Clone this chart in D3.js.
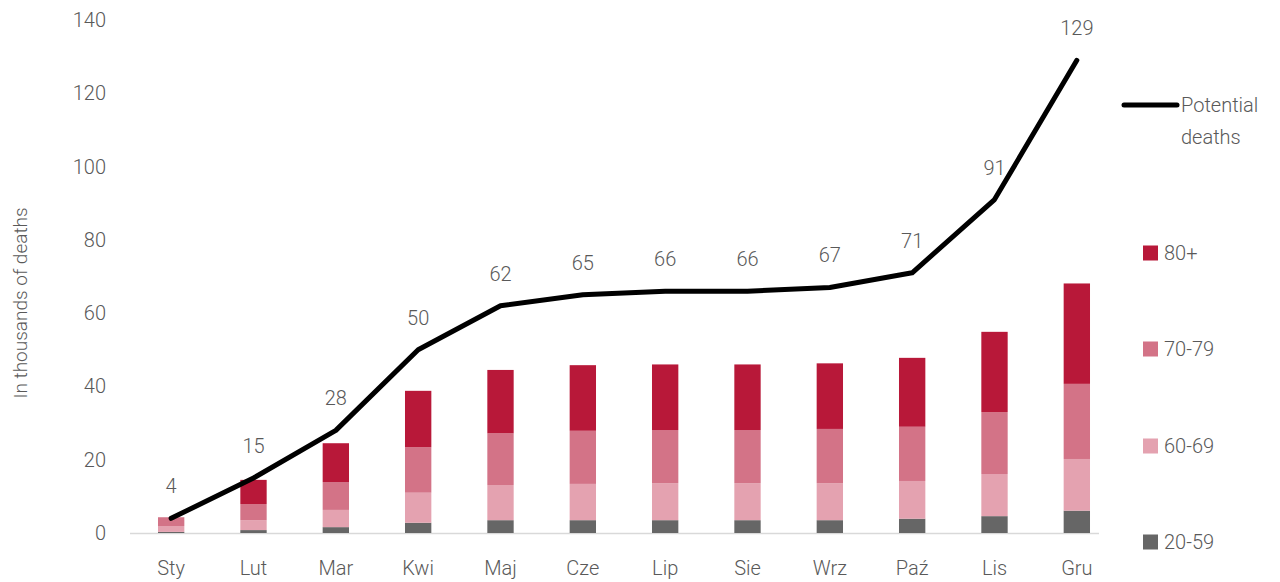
<!DOCTYPE html>
<html>
<head>
<meta charset="utf-8">
<script src="https://cdn.jsdelivr.net/npm/d3@7"></script>
<style>
  body { margin: 0; background: #fff; }
  text { font-family: Roboto, "Noto Sans", sans-serif; font-weight: 300; fill: #595959; }
</style>
</head>
<body>
<svg id="chart" width="1280" height="582"></svg>
<script>
// data
var months = ["Sty", "Lut", "Mar", "Kwi", "Maj", "Cze", "Lip", "Sie", "Wrz", "Paź", "Lis", "Gru"];
var ages = ["20-59", "60-69", "70-79", "80+"];
var age2059 = [0.3, 0.8, 1.6, 2.8, 3.5, 3.5, 3.5, 3.5, 3.5, 3.9, 4.6, 6.1];
var age6069 = [1.6, 2.7, 4.7, 8.2, 9.6, 9.9, 10.1, 10.1, 10.1, 10.3, 11.5, 14.1];
var age7079 = [2.4, 4.4, 7.6, 12.4, 14.1, 14.5, 14.5, 14.5, 14.8, 14.8, 16.9, 20.5];
var age80 = [0.0, 6.6, 10.6, 15.4, 17.3, 17.9, 17.9, 17.9, 17.9, 18.8, 21.9, 27.4];
var potential = [4, 15, 28, 50, 62, 65, 66, 66, 67, 71, 91, 129];
var yTicks = [0, 20, 40, 60, 80, 100, 120, 140];

var colors = { "20-59": "#666666", "60-69": "#e4a2b0", "70-79": "#d37387", "80+": "#b81839" };

var svg = d3.select("#chart");

var x = d3.scaleBand().domain(months).range([130, 1118]).paddingInner(0.68).paddingOuter(0.34);
var y = d3.scaleLinear().domain([0, 140]).range([533, 20]);

var rows = months.map(function (m, i) {
    return { month: m, "20-59": age2059[i], "60-69": age6069[i], "70-79": age7079[i], "80+": age80[i] };
});
var stacked = d3.stack().keys(ages)(rows);

// y axis labels
svg.append("g")
    .selectAll("text")
    .data(yTicks)
    .enter()
    .append("text")
    .attr("x", 106)
    .attr("y", d => y(d))
    .attr("dy", "0.35em")
    .attr("text-anchor", "end")
    .style("font-size", "20px")
    .text(d => d);

svg.append("text")
    .attr("transform", "translate(27," + 303 + ") rotate(-90)")
    .attr("text-anchor", "middle")
    .style("font-size", "19px")
    .text("In thousands of deaths");

// baseline
svg.append("line")
    .attr("x1", 130).attr("x2", 1099)
    .attr("y1", y(0) + 0.5).attr("y2", y(0) + 0.5)
    .attr("stroke", "#d9d9d9")
    .attr("stroke-width", 1.5);

// stacked bars
svg.append("g")
    .selectAll("g")
    .data(stacked)
    .enter()
    .append("g")
    .attr("fill", d => colors[d.key])
    .selectAll("rect")
    .data(d => d)
    .enter()
    .append("rect")
    .attr("x", d => x(d.data.month))
    .attr("y", d => y(d[1]))
    .attr("width", x.bandwidth())
    .attr("height", d => y(d[0]) - y(d[1]));

// x labels
svg.append("g")
    .selectAll("text")
    .data(months)
    .enter()
    .append("text")
    .attr("x", d => x(d) + x.bandwidth() / 2)
    .attr("y", 568)
    .attr("dy", "0.35em")
    .attr("text-anchor", "middle")
    .style("font-size", "20px")
    .text(d => d);

// potential deaths line
var line = d3.line()
    .x((d, i) => x(months[i]) + x.bandwidth() / 2)
    .y(d => y(d));

svg.append("path")
    .datum(potential)
    .attr("d", line)
    .attr("fill", "none")
    .attr("stroke", "#000")
    .attr("stroke-width", 5)
    .attr("stroke-linejoin", "round")
    .attr("stroke-linecap", "round");

svg.append("g")
    .selectAll("text")
    .data(potential)
    .enter()
    .append("text")
    .attr("x", (d, i) => x(months[i]) + x.bandwidth() / 2)
    .attr("y", d => y(d) - 32)
    .attr("dy", "0.35em")
    .attr("text-anchor", "middle")
    .style("font-size", "20px")
    .text(d => d);

// legend
svg.append("line")
    .attr("x1", 1124).attr("x2", 1177)
    .attr("y1", 105).attr("y2", 105)
    .attr("stroke", "#000")
    .attr("stroke-width", 5)
    .attr("stroke-linecap", "round");

svg.append("text").attr("x", 1181).attr("y", 105).attr("dy", "0.35em")
    .style("font-size", "20px").text("Potential");
svg.append("text").attr("x", 1181).attr("y", 137).attr("dy", "0.35em")
    .style("font-size", "20px").text("deaths");

var legendY = { "80+": 253, "70-79": 349, "60-69": 446, "20-59": 542 };
var legend = svg.append("g")
    .selectAll("g")
    .data(ages.slice().reverse())
    .enter()
    .append("g")
    .attr("transform", d => "translate(1143," + legendY[d] + ")");

legend.append("rect")
    .attr("x", 0).attr("y", -7.5)
    .attr("width", 15).attr("height", 15)
    .attr("fill", d => colors[d]);

legend.append("text")
    .attr("x", 21).attr("y", 0).attr("dy", "0.35em")
    .style("font-size", "20px")
    .text(d => d);
</script>
</body>
</html>
